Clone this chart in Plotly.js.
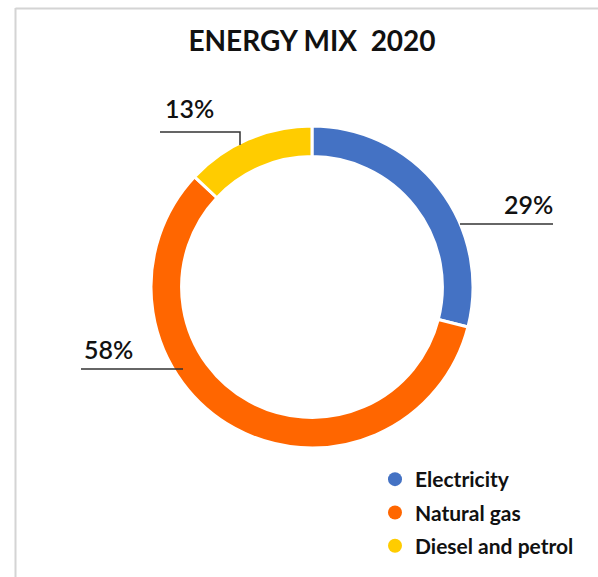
<!DOCTYPE html>
<html>
<head>
<meta charset="utf-8">
<script src="https://cdn.plot.ly/plotly-3.0.1.min.js"></script>
<style>html,body{margin:0;padding:0;background:#fff;}#chart{width:598px;height:577px;}</style>
</head>
<body>
<div id="chart"></div>
<script>
// ---- data ----
const categories = ["Electricity", "Natural gas", "Diesel and petrol"];
const values = [29, 58, 13];
const colors = ["#4472C4", "#FF6600", "#FFCC00"];
const chartTitle = "ENERGY MIX\u00A0 2020";

// ---- layout helpers (pixel -> paper) ----
const W = 598, H = 577;
const px = x => x / W;
const py = y => 1 - y / H;

const total = values.reduce((a, b) => a + b, 0);
const pctText = values.map(v => Math.round(v / total * 100) + "%");

// label anchor positions (pixels) and leader line paths
const labelPos = [
  {x: 528, y: 204},   // Electricity
  {x: 108, y: 349},   // Natural gas
  {x: 189, y: 108}    // Diesel and petrol
];
const leaders = [
  [[553, 224], [460, 224]],
  [[81, 369], [183, 369]],
  [[160, 132], [240, 132], [240, 145]]
];

const pie = {
  type: "pie",
  values: values,
  labels: categories,
  marker: {colors: colors, line: {color: "#ffffff", width: 3}},
  hole: 0.81,
  sort: false,
  direction: "clockwise",
  rotation: 0,
  textinfo: "none",
  hoverinfo: "label+percent",
  showlegend: false,
  domain: {x: [px(312 - 162), px(312 + 162)], y: [py(287 + 161), py(287 - 161)]}
};

const legendTraces = categories.map((c, i) => ({
  type: "scatter", mode: "markers", x: [null], y: [null],
  name: c, legendgroup: "g" + i,
  marker: {color: colors[i], size: 14, symbol: "circle"},
  hoverinfo: "skip"
}));

const annotations = pctText.map((t, i) => ({
  text: t, xref: "paper", yref: "paper",
  x: px(labelPos[i].x), y: py(labelPos[i].y),
  xanchor: "center", yanchor: "middle", showarrow: false,
  font: {family: "Lato", size: 25, weight: 600, color: "#111111"}
}));

const shapes = leaders.map(pts => ({
  type: "path", xref: "paper", yref: "paper",
  path: pts.map((p, k) => (k ? "L" : "M") + px(p[0]) + "," + py(p[1])).join(" "),
  line: {color: "#333333", width: 1.5}
}));
// frame lines
shapes.push({type: "line", xref: "paper", yref: "paper", x0: px(15.5), x1: px(15.5), y0: py(8), y1: 0, line: {color: "#d4d4d4", width: 2}});
shapes.push({type: "line", xref: "paper", yref: "paper", x0: px(15.5), x1: 1, y0: py(8.5), y1: py(8.5), line: {color: "#d4d4d4", width: 2}});

const layout = {
  width: W, height: H,
  margin: {l: 0, r: 0, t: 0, b: 0},
  paper_bgcolor: "#ffffff", plot_bgcolor: "#ffffff",
  title: {text: chartTitle, x: px(312), xanchor: "center", y: py(41), yanchor: "middle",
          font: {family: "Lato", size: 28, weight: "bold", color: "#111111"}},
  xaxis: {visible: false}, yaxis: {visible: false},
  showlegend: true,
  legend: {x: px(375), y: py(459), xanchor: "left", yanchor: "top",
           traceorder: "grouped", tracegroupgap: 3, itemsizing: "trace",
           font: {family: "Lato", size: 21, weight: "bold", color: "#111111"},
           bgcolor: "rgba(0,0,0,0)"},
  annotations: annotations,
  shapes: shapes
};

Plotly.newPlot("chart", [pie].concat(legendTraces), layout, {displayModeBar: false, staticPlot: true});
</script>
</body>
</html>
